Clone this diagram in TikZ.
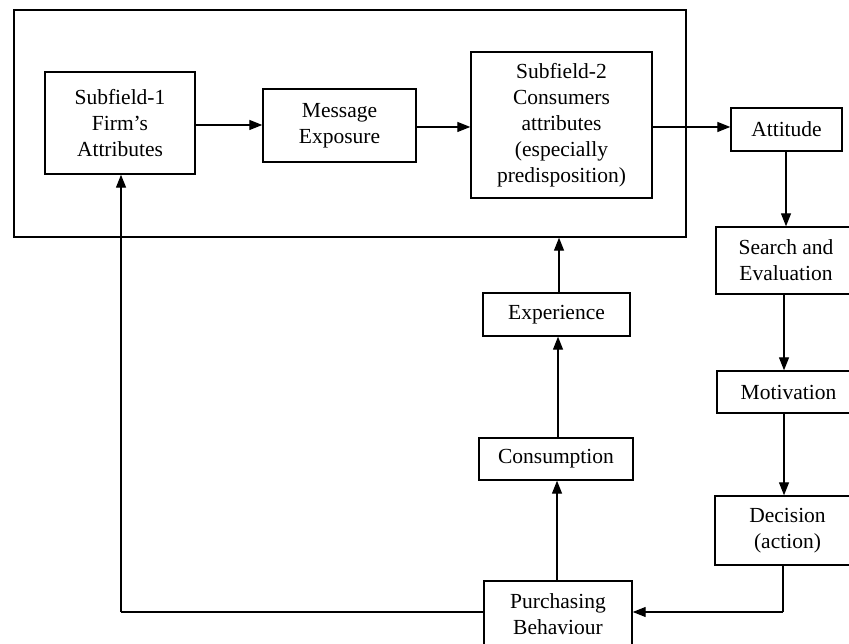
\documentclass[tikz,border=0pt]{standalone}
\usepackage{fontspec}
\setmainfont{Liberation Serif}
\usetikzlibrary{arrows.meta}
\begin{document}
\begin{tikzpicture}[x=1pt,y=-1pt,
  box/.style={draw,line width=1.4pt,inner sep=0pt,align=center,
    font=\fontsize{21.5}{26}\selectfont},
  arr/.style={line width=1.3pt,-{Triangle[length=13pt,width=10pt]}},
  ln/.style={line width=1.3pt}]
\clip (0,0) rectangle (849,644);
\fill[white] (0,0) rectangle (849,644);
\node[draw,line width=1.4pt,minimum width=672pt,minimum height=227pt,inner sep=0pt] (field) at (350,123.5) {};
\node[box,minimum width=150pt,minimum height=102pt] (sub1) at (120,123) {Subfield-1\\Firm’s\\Attributes};
\node[box,minimum width=153pt,minimum height=73pt] (msg) at (339.5,125.5) {Message\\Exposure};
\node[box,minimum width=181pt,minimum height=146pt] (sub2) at (561.5,125) {Subfield-2\\Consumers\\attributes\\(especially\\predisposition)};
\node[box,minimum width=111pt,minimum height=43pt] (att) at (786.5,129.5) {Attitude};
\node[box,minimum width=140pt,minimum height=67pt] (search) at (786,260.5) {Search and\\Evaluation};
\node[box,minimum width=143pt,minimum height=42pt] (mot) at (788.5,392) {Motivation};
\node[box,minimum width=145pt,minimum height=69pt] (dec) at (787.5,530.5) {Decision\\(action)};
\node[box,minimum width=148pt,minimum height=66pt] (purch) at (558,614) {Purchasing\\Behaviour};
\node[box,minimum width=154pt,minimum height=42pt] (cons) at (556,459) {Consumption};
\node[box,minimum width=147pt,minimum height=43pt] (exp) at (556.5,314.5) {Experience};
\coordinate (dcorner) at (783,612);
\coordinate (lcorner) at (121,612);
\draw[arr] (sub1.east |- 0,125) -- (msg.west |- 0,125);
\draw[arr] (msg.east |- 0,127) -- (sub2.west |- 0,127);
\draw[arr] (sub2.east |- 0,127) -- (att.west |- 0,127);
\draw[arr] (att.south -| 786,0) -- (search.north -| 786,0);
\draw[arr] (search.south -| 784,0) -- (mot.north -| 784,0);
\draw[arr] (mot.south -| 784,0) -- (dec.north -| 784,0);
\draw[ln] (dec.south -| dcorner) -- (dcorner);
\draw[arr] (dcorner) -- (purch.east |- dcorner);
\draw[arr] (purch.north -| 557,0) -- (cons.south -| 557,0);
\draw[arr] (cons.north -| 558,0) -- (exp.south -| 558,0);
\draw[arr] (exp.north -| 559,0) -- (field.south -| 559,0);
\draw[ln] (purch.west |- lcorner) -- (lcorner);
\draw[arr] (lcorner) -- (sub1.south -| lcorner);
\end{tikzpicture}
\end{document}
